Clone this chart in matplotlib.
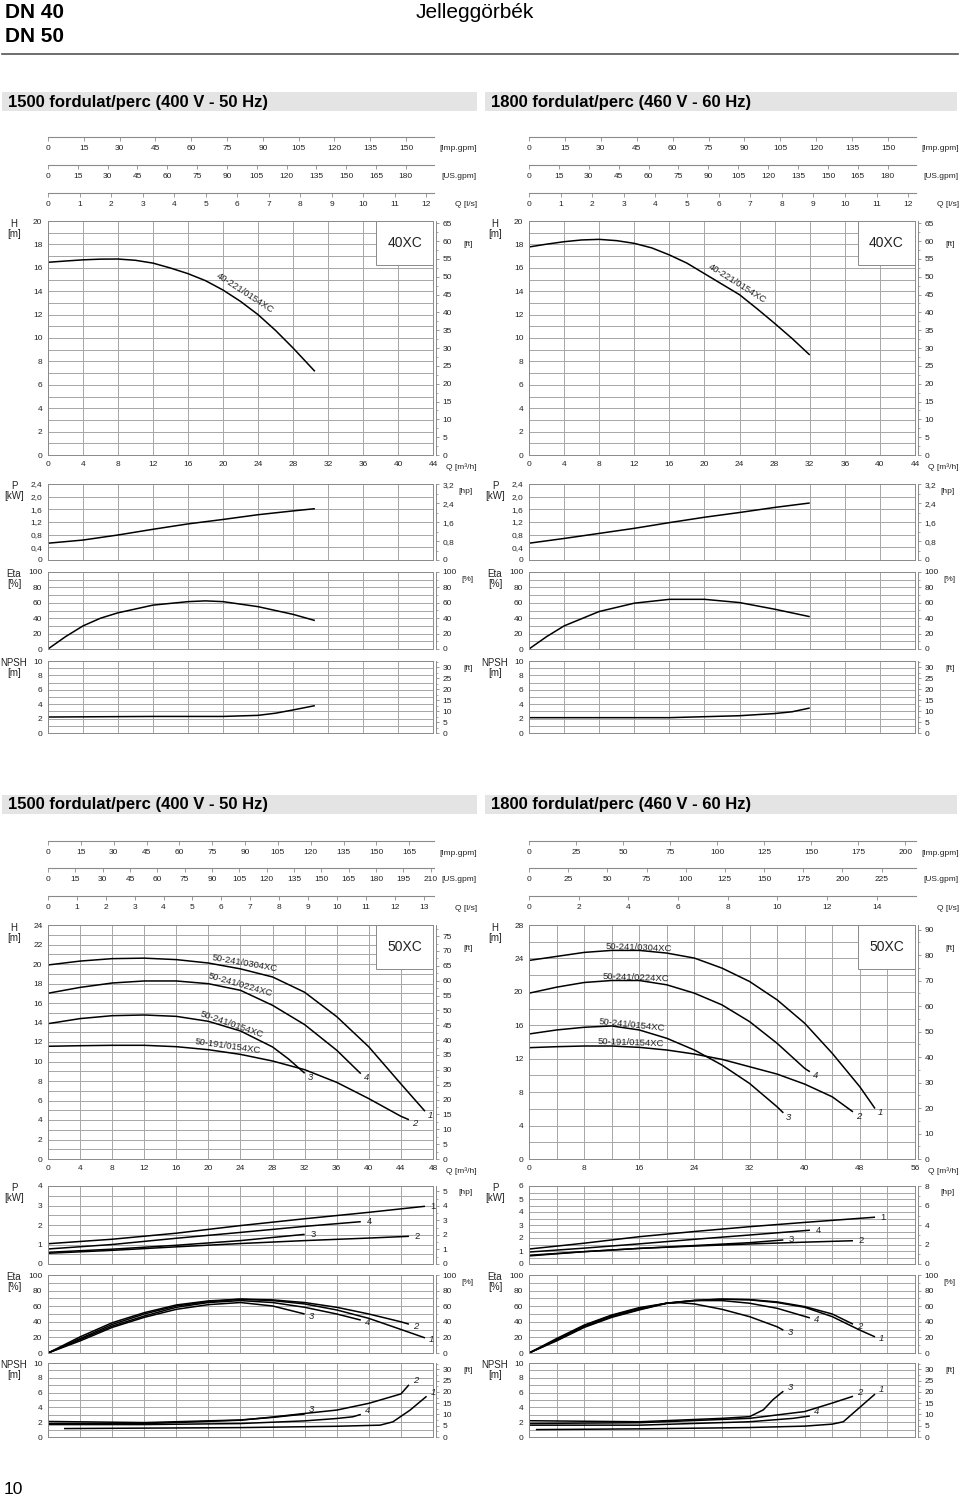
import matplotlib.pyplot as plt
from matplotlib.patches import Rectangle
from matplotlib.ticker import MultipleLocator, FuncFormatter

plt.rcParams['font.family'] = ['Liberation Sans', 'DejaVu Sans']

W, H = 960, 1497

# conversions for the secondary scales
IMP_GPM = 0.272765   # m3/h per Imp.gpm
US_GPM = 0.227125    # m3/h per US.gpm
LPS = 3.6            # m3/h per l/s
FT = 3.28084         # ft per m
HP = 1.34102         # hp per kW

# ---------------- DN 40 (40XC), 1500 rpm ----------------
q_h40a = [0, 2, 4, 6, 8, 10, 12, 14, 16, 18, 20, 22, 24, 26, 28, 30.5]
h40a = [16.47, 16.58, 16.68, 16.74, 16.75, 16.64, 16.4, 15.98, 15.5, 14.9, 14.1, 13.13, 12.0, 10.65, 9.15, 7.15]
q_p40a = [0, 4, 8, 12, 16, 20, 24, 28, 30.5]
p40a = [0.53, 0.63, 0.79, 0.97, 1.14, 1.28, 1.43, 1.55, 1.62]
q_e40a = [0, 2, 4, 6, 8, 12, 16, 18, 20, 24, 28, 30.5]
e40a = [0, 16, 30, 40, 47, 57, 61.5, 62.5, 61.5, 55, 45, 37]
q_n40a = [0, 12, 20, 24, 26, 28, 30.5]
n40a = [2.22, 2.3, 2.3, 2.45, 2.75, 3.2, 3.8]

# ---------------- DN 40 (40XC), 1800 rpm ----------------
q_h40b = [0, 2, 4, 6, 8, 10, 12, 14, 16, 18, 20, 22, 24, 26, 28, 30, 32]
h40b = [17.78, 18.02, 18.23, 18.38, 18.43, 18.32, 18.09, 17.7, 17.1, 16.4, 15.5, 14.6, 13.7, 12.5, 11.25, 9.95, 8.55]
q_p40b = [0, 4, 8, 12, 16, 20, 24, 28, 32]
p40b = [0.53, 0.68, 0.84, 1.0, 1.18, 1.35, 1.5, 1.66, 1.8]
q_e40b = [0, 2, 4, 8, 12, 16, 20, 24, 28, 32]
e40b = [0, 16, 30, 48.7, 59.5, 64.5, 64.5, 60.3, 51.7, 42]
q_n40b = [0, 16, 24, 28, 30, 32]
n40b = [2.13, 2.13, 2.4, 2.7, 2.95, 3.47]

# ---------------- DN 50 (50XC), curves 1..4 ----------------
curve_no = ['1', '2', '3', '4']
models50 = ['50-241/0304XC', '50-191/0154XC', '50-241/0154XC', '50-241/0224XC']

# 1500 rpm
h50a_q = [[0, 4, 8, 12, 16, 20, 24, 28, 32, 36, 40, 44, 47],
          [0, 4, 8, 12, 16, 20, 24, 28, 32, 36, 40, 44, 45],
          [0, 4, 8, 12, 16, 20, 24, 28, 30, 32],
          [0, 4, 8, 12, 16, 20, 24, 28, 32, 36, 39]]
h50a_h = [[19.9, 20.3, 20.55, 20.6, 20.45, 20.1, 19.5, 18.67, 17.1, 14.6, 11.5, 7.7, 4.9],
          [11.56, 11.62, 11.66, 11.66, 11.52, 11.21, 10.73, 10.05, 9.16, 7.86, 6.19, 4.38, 4.03],
          [13.88, 14.4, 14.7, 14.77, 14.63, 14.12, 13.13, 11.49, 10.25, 8.8],
          [17.0, 17.6, 18.05, 18.26, 18.26, 17.98, 17.3, 15.76, 13.78, 11.15, 8.75]]
p50a_q = [[0, 8, 16, 24, 32, 40, 47],
          [0, 8, 16, 24, 32, 40, 45],
          [0, 8, 16, 24, 32],
          [0, 8, 16, 24, 32, 39]]
p50a_p = [[1.04, 1.27, 1.58, 1.97, 2.32, 2.65, 2.96],
          [0.55, 0.7, 0.88, 1.05, 1.2, 1.33, 1.42],
          [0.6, 0.76, 0.96, 1.2, 1.52],
          [0.77, 1.0, 1.32, 1.62, 1.93, 2.17]]
e50a_q = [[0, 4, 8, 12, 16, 20, 24, 28, 32, 36, 40, 44, 47],
          [0, 4, 8, 12, 16, 20, 24, 28, 32, 36, 40, 44, 45],
          [0, 4, 8, 12, 16, 20, 24, 28, 32],
          [0, 4, 8, 12, 16, 20, 24, 28, 32, 36, 39]]
e50a_e = [[0, 18.5, 36.6, 50, 60.3, 65.9, 69, 67.2, 62.9, 55.2, 44.4, 30.2, 19.4],
          [0, 20.7, 38.8, 51.7, 61.6, 66.8, 69, 68.1, 64.7, 58.6, 50, 40, 37],
          [0, 15.5, 32.8, 45.7, 56, 62, 64.7, 60.3, 50],
          [0, 17.2, 34.5, 47.4, 58.6, 64.7, 67.2, 64.7, 58.6, 50, 42.2]]
n50a_q = [[2, 24, 36, 41.4, 43, 45.1, 47.2],
          [0, 12, 24, 28, 32, 36, 40, 44, 45],
          [0, 12, 24, 28, 32],
          [0, 12, 24, 32, 36, 38, 39]]
n50a_n = [[1.14, 1.27, 1.45, 1.6, 2.05, 3.6, 5.5],
          [1.8, 1.8, 2.27, 2.7, 3.18, 3.64, 4.55, 5.82, 7.05],
          [2.1, 1.95, 2.3, 2.65, 3.1],
          [1.68, 1.68, 1.82, 2.18, 2.5, 2.73, 3.05]]

# 1800 rpm
h50b_q = [[0, 4, 8, 12, 16, 20, 24, 28, 32, 36, 40, 44, 48, 50.2],
          [0, 4, 8, 12, 16, 20, 24, 28, 32, 36, 40, 44, 47],
          [0, 4, 8, 12, 16, 20, 24, 28, 32, 36, 36.9],
          [0, 4, 8, 12, 16, 20, 24, 28, 32, 36, 40, 40.75]]
h50b_h = [[23.76, 24.24, 24.72, 24.96, 24.96, 24.64, 24.04, 22.84, 21.24, 19.04, 16.24, 12.64, 8.64, 6.04],
          [13.32, 13.44, 13.52, 13.52, 13.36, 13.04, 12.56, 11.92, 11.04, 10.16, 8.96, 7.44, 5.64],
          [14.96, 15.44, 15.76, 15.92, 15.44, 14.44, 13.04, 11.24, 9.04, 6.24, 5.52],
          [19.84, 20.56, 21.12, 21.36, 21.36, 20.84, 19.84, 18.44, 16.44, 13.84, 10.84, 10.44]]
p50b_q = [[0, 8, 16, 24, 32, 40, 50.2],
          [0, 8, 16, 24, 32, 40, 47],
          [0, 8, 16, 24, 32, 36.9],
          [0, 8, 16, 24, 32, 40.75]]
p50b_p = [[1.15, 1.6, 2.1, 2.5, 2.87, 3.2, 3.6],
          [0.67, 0.95, 1.2, 1.38, 1.54, 1.68, 1.79],
          [0.62, 0.95, 1.2, 1.42, 1.64, 1.85],
          [0.92, 1.22, 1.55, 1.9, 2.23, 2.6]]
e50b_q = [[0, 4, 8, 12, 16, 20, 24, 28, 32, 36, 40, 44, 48, 50.2],
          [0, 4, 8, 12, 16, 20, 24, 28, 32, 36, 40, 44, 47],
          [0, 4, 8, 12, 16, 20, 22, 24, 28, 32, 36, 36.9],
          [0, 4, 8, 12, 16, 20, 24, 28, 32, 36, 40.75]]
e50b_e = [[0, 16.4, 33.6, 46.6, 56, 63.8, 67.2, 69, 68.1, 64.7, 58.6, 46.6, 29.3, 20.7],
          [0, 17, 35, 48, 57, 64, 67.5, 69, 68.5, 65.5, 59.5, 50, 37],
          [0, 18.5, 35.8, 48.7, 58.2, 63.8, 64.5, 62.9, 56, 46.6, 33.6, 29.3],
          [0, 15.5, 32.8, 45.7, 55.2, 63.8, 67.2, 67.2, 63.8, 57.3, 45]]
n50b_q = [[1, 16, 32, 40, 44, 45.6, 47, 50.2],
          [0, 16, 32, 40, 44, 47],
          [0, 16, 28, 32, 34, 35.4, 36.9],
          [0, 16, 32, 38.3, 40.75]]
n50b_n = [[1.0, 1.1, 1.28, 1.47, 1.74, 2.06, 3.2, 5.8],
          [1.83, 1.93, 2.52, 3.44, 4.59, 5.5],
          [2.2, 2.06, 2.52, 2.75, 3.67, 5.05, 6.19],
          [1.6, 1.6, 2.06, 2.52, 2.84]]

# ---------------- style ----------------
GRID = '#a6a6a6'
SPINE = '#8a8a8a'
TXT = '#222222'
TICK_FS = 6.0
UNIT_FS = 6.0
NAME_FS = 7.0

int_fmt = FuncFormatter(lambda v, p: '%d' % round(v))
dec_fmt = FuncFormatter(lambda v, p: '0' if abs(v) < 1e-9 else f'{v:.1f}'.replace('.', ','))

fig = plt.figure(figsize=(W / 100, H / 100), dpi=100)


def add_px_axes(x0, y0, x1, y1):
    return fig.add_axes([x0 / W, 1 - y1 / H, (x1 - x0) / W, (y1 - y0) / H])


def ptext(x, y, s, **kw):
    kw.setdefault('color', TXT)
    fig.text(x / W, 1 - y / H, s, **kw)


def prect(x0, y0, x1, y1, **kw):
    fig.add_artist(Rectangle((x0 / W, 1 - y1 / H), (x1 - x0) / W, (y1 - y0) / H,
                             transform=fig.transFigure, **kw))


def setup_grid(ax, qmax, qlab, ymax, ylab, ygrid, fmt, xlabels):
    ax.set_xlim(0, qmax)
    ax.set_ylim(0, ymax)
    ax.xaxis.set_major_locator(MultipleLocator(qlab))
    ax.xaxis.set_minor_locator(MultipleLocator(4))
    ax.yaxis.set_major_locator(MultipleLocator(ylab))
    ax.yaxis.set_minor_locator(MultipleLocator(ygrid))
    ax.yaxis.set_major_formatter(fmt)
    ax.xaxis.set_major_formatter(int_fmt)
    ax.grid(True, which='both', color=GRID, lw=0.7)
    ax.set_axisbelow(True)
    ax.tick_params(which='both', length=0, labelsize=TICK_FS, labelcolor=TXT, pad=4)
    ax.tick_params(axis='x', labelbottom=xlabels)
    for s in ax.spines.values():
        s.set_color(SPINE)
        s.set_linewidth(0.7)


def add_right(ax, factor, ymax, lab, minor, fmt):
    tw = ax.twinx()
    tw.set_ylim(0, ymax * factor)
    for s in ('left', 'top', 'bottom'):
        tw.spines[s].set_visible(False)
    tw.spines['right'].set_position(('outward', 2.5))
    tw.spines['right'].set_color(SPINE)
    tw.spines['right'].set_linewidth(0.7)
    tw.yaxis.set_major_locator(MultipleLocator(lab))
    tw.yaxis.set_minor_locator(MultipleLocator(minor))
    tw.yaxis.set_major_formatter(fmt)
    tw.tick_params(axis='y', which='major', length=2.5, width=0.6, color=SPINE,
                   labelsize=TICK_FS, labelcolor=TXT, pad=2)
    tw.tick_params(axis='y', which='minor', length=1.5, width=0.5, color=SPINE)
    return tw


def draw_curves(ax, qs, vs, nums=None, style='italic', off=(3, 0)):
    for i, (q, v) in enumerate(zip(qs, vs)):
        ax.plot(q, v, color='black', lw=1.1, solid_capstyle='butt', solid_joinstyle='round')
        if nums:
            ax.annotate(nums[i], (q[-1], v[-1]), xytext=off, textcoords='offset points',
                        fontsize=6.8, style=style, ha='left', va='center', color=TXT)


def draw_panel(x0, x1, lay, cfg):
    qmax = cfg['qmax']
    xr = x1 + 44
    xn = x0 - 34

    # flow scales on top
    for y, conv, step, unit in zip(lay['scales'], (IMP_GPM, US_GPM, LPS), cfg['steps'],
                                   ('[Imp.gpm]', '[US.gpm]', 'Q [l/s]')):
        sa = add_px_axes(x0, y - 1, x1 + 1, y)
        sa.set_xlim(0, (qmax + 0.1) / conv)
        sa.set_ylim(0, 1)
        sa.patch.set_visible(False)
        for s in ('left', 'right', 'top'):
            sa.spines[s].set_visible(False)
        sa.spines['bottom'].set_color(SPINE)
        sa.spines['bottom'].set_linewidth(0.8)
        sa.set_yticks([])
        sa.xaxis.set_major_locator(MultipleLocator(step))
        sa.xaxis.set_major_formatter(int_fmt)
        sa.tick_params(axis='x', length=3.2, width=0.6, color=SPINE, labelsize=TICK_FS,
                       labelcolor=TXT, pad=2.5)
        ptext(xr, y + 12, unit, ha='right', va='center', fontsize=UNIT_FS)

    # head
    t, b = lay['h']
    ah = add_px_axes(x0, t, x1, b)
    setup_grid(ah, qmax, cfg['qlab'], cfg['hmax'], cfg['hlab'], cfg['hgrid'], int_fmt, True)
    add_right(ah, FT, cfg['hmax'], cfg['ftlab'], cfg['ftlab'] / 2, int_fmt)
    draw_curves(ah, cfg['h'][0], cfg['h'][1], cfg.get('nums'), 'italic', (2, -3))
    for s, q, h, rot in cfg['names']:
        ah.text(q, h, s, rotation=rot, rotation_mode='anchor', ha='center', va='center',
                fontsize=6.8, color=TXT)
    ah.add_patch(Rectangle((0.852, 0.812), 0.148, 0.188, transform=ah.transAxes,
                           facecolor='white', edgecolor=SPINE, lw=0.7, zorder=3))
    ah.text(0.926, 0.906, cfg['box'], transform=ah.transAxes, ha='center', va='center',
            fontsize=10, color=TXT, zorder=4)
    ptext(xn, t + 3, 'H', ha='center', va='center', fontsize=NAME_FS)
    ptext(xn, t + 13, '[m]', ha='center', va='center', fontsize=NAME_FS)
    ptext(xr - 4, t + 23, '[ft]', ha='right', va='center', fontsize=UNIT_FS)
    ptext(xr, b + 12, 'Q [m³/h]', ha='right', va='center', fontsize=UNIT_FS)

    # power
    t, b = lay['p']
    ap = add_px_axes(x0, t, x1, b)
    setup_grid(ap, qmax, cfg['qlab'], cfg['pmax'], cfg['plab'], cfg['pgrid'], cfg['pfmt'], False)
    add_right(ap, HP, cfg['pmax'], cfg['hplab'], cfg['hplab'] / 2, cfg['pfmt'])
    draw_curves(ap, cfg['p'][0], cfg['p'][1], cfg.get('nums'), 'normal', (4, 0))
    ptext(xn, t + 2, 'P', ha='center', va='center', fontsize=NAME_FS)
    ptext(xn, t + 12, '[kW]', ha='center', va='center', fontsize=NAME_FS)
    ptext(xr - 4, t + 7, '[hp]', ha='right', va='center', fontsize=UNIT_FS)

    # efficiency
    t, b = lay['e']
    ae = add_px_axes(x0, t, x1, b)
    setup_grid(ae, qmax, cfg['qlab'], 100, 20, 10, int_fmt, False)
    add_right(ae, 1, 100, 20, 10, int_fmt)
    draw_curves(ae, cfg['e'][0], cfg['e'][1], cfg.get('nums'), 'italic', (3, -1.5))
    ptext(xn, t + 2, 'Eta', ha='center', va='center', fontsize=NAME_FS)
    ptext(xn, t + 12, '[%]', ha='center', va='center', fontsize=NAME_FS)
    ptext(xr - 4, t + 7, '[%]', ha='right', va='center', fontsize=UNIT_FS)

    # NPSH
    t, b = lay['n']
    an = add_px_axes(x0, t, x1, b)
    setup_grid(an, qmax, cfg['qlab'], 10, 2, 1, int_fmt, False)
    add_right(an, FT, 10, 5, 2.5, int_fmt)
    draw_curves(an, cfg['n'][0], cfg['n'][1], cfg.get('nums'), 'italic', (3, 3))
    ptext(xn, t + 2, 'NPSH', ha='center', va='center', fontsize=NAME_FS)
    ptext(xn, t + 12, '[m]', ha='center', va='center', fontsize=NAME_FS)
    ptext(xr - 4, t + 7, '[ft]', ha='right', va='center', fontsize=UNIT_FS)


# ---------------- page header ----------------
ptext(5, 12, 'DN 40', ha='left', va='center', fontsize=15, fontweight='bold', color='black')
ptext(5, 37, 'DN 50', ha='left', va='center', fontsize=15, fontweight='bold', color='black')
ptext(416, 13, 'Jelleggörbék', ha='left', va='center', fontsize=15, color='black')
fig.add_artist(plt.Line2D([2 / W, 958 / W], [1 - 54 / H, 1 - 54 / H], color='#555555', lw=1.2,
                          transform=fig.transFigure))
ptext(4, 1489, '10', ha='left', va='center', fontsize=12.5, color='black')

TOP = dict(scales=(137, 165, 193), h=(221, 455), p=(484, 560), e=(572, 649), n=(661, 733))
BOT = dict(scales=(841, 868, 896), h=(925, 1159), p=(1186, 1264), e=(1275, 1353), n=(1363, 1437))
LX = (48, 433)
RX = (529, 915)

for (bx0, bx1), by, title in [((2, 477), (92, 111), '1500 fordulat/perc (400 V - 50 Hz)'),
                              ((485, 957), (92, 111), '1800 fordulat/perc (460 V - 60 Hz)'),
                              ((2, 477), (795, 814), '1500 fordulat/perc (400 V - 50 Hz)'),
                              ((485, 957), (795, 814), '1800 fordulat/perc (460 V - 60 Hz)')]:
    prect(bx0, by[0], bx1, by[1], facecolor='#e4e4e4', edgecolor='none')
    ptext(bx0 + 6, (by[0] + by[1]) / 2 + 0.5, title, ha='left', va='center', fontsize=12,
          fontweight='bold', color='black')

cfg40a = dict(qmax=44, qlab=4, steps=(15, 15, 1), hmax=20, hlab=2, hgrid=1, ftlab=5,
              pmax=2.4, plab=0.4, pgrid=0.4, pfmt=dec_fmt, hplab=0.8, box='40XC',
              h=([q_h40a], [h40a]), p=([q_p40a], [p40a]), e=([q_e40a], [e40a]), n=([q_n40a], [n40a]),
              names=[('40-221/0154XC', 22.5, 13.85, -33)])
cfg40b = dict(qmax=44, qlab=4, steps=(15, 15, 1), hmax=20, hlab=2, hgrid=1, ftlab=5,
              pmax=2.4, plab=0.4, pgrid=0.4, pfmt=dec_fmt, hplab=0.8, box='40XC',
              h=([q_h40b], [h40b]), p=([q_p40b], [p40b]), e=([q_e40b], [e40b]), n=([q_n40b], [n40b]),
              names=[('40-221/0154XC', 23.7, 14.7, -32)])
cfg50a = dict(qmax=48, qlab=4, steps=(15, 15, 1), hmax=24, hlab=2, hgrid=1, ftlab=5,
              pmax=4, plab=1, pgrid=0.5, pfmt=int_fmt, hplab=1, box='50XC', nums=curve_no,
              h=(h50a_q, h50a_h), p=(p50a_q, p50a_p), e=(e50a_q, e50a_e), n=(n50a_q, n50a_n),
              names=[(models50[0], 24.56, 20.1, -10), (models50[3], 23.94, 17.85, -16),
                     (models50[2], 22.94, 13.75, -19), (models50[1], 22.44, 11.55, -8)])
cfg50b = dict(qmax=56, qlab=8, steps=(25, 25, 2), hmax=28, hlab=4, hgrid=2, ftlab=10,
              pmax=6, plab=1, pgrid=0.5, pfmt=int_fmt, hplab=2, box='50XC', nums=curve_no,
              h=(h50b_q, h50b_h), p=(p50b_q, p50b_p), e=(e50b_q, e50b_e), n=(n50b_q, n50b_n),
              names=[(models50[0], 15.96, 25.25, -2), (models50[3], 15.52, 21.66, -2),
                     (models50[2], 14.94, 16.03, -6), (models50[1], 14.8, 13.88, -2)])

draw_panel(LX[0], LX[1], TOP, cfg40a)
draw_panel(RX[0], RX[1], TOP, cfg40b)
draw_panel(LX[0], LX[1], BOT, cfg50a)
draw_panel(RX[0], RX[1], BOT, cfg50b)

fig.savefig('out.png', dpi=100, facecolor='white')
